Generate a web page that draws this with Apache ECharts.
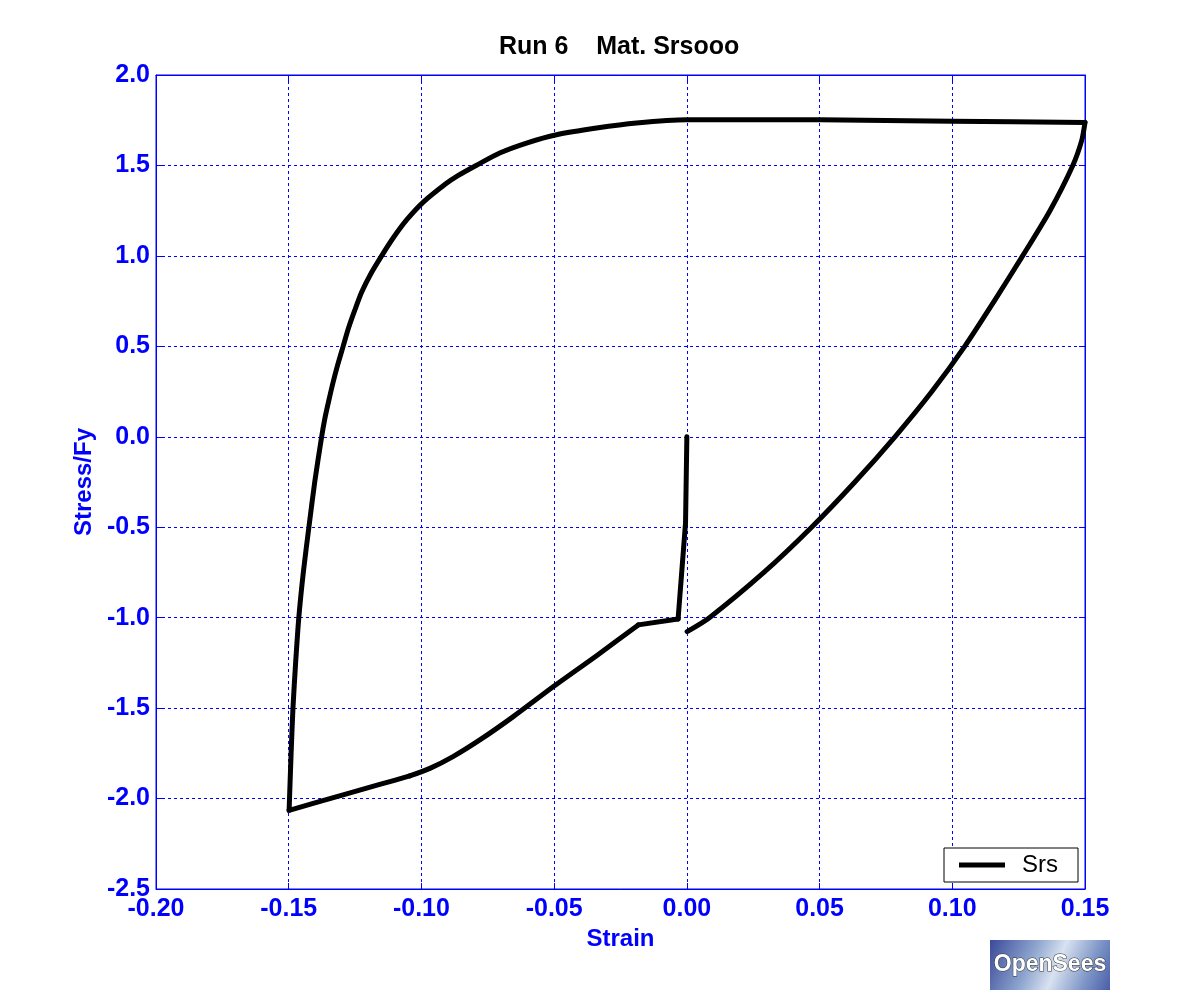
<!DOCTYPE html>
<html>
<head>
<meta charset="utf-8">
<script src="https://cdn.jsdelivr.net/npm/echarts@6/dist/echarts.min.js"></script>
<style>html,body{margin:0;padding:0;background:#fff}#c{width:1200px;height:1000px}</style>
</head>
<body>
<div id="c"></div>
<script>
const strain = [
  0, -0.0005, -0.0033, -0.0183, -0.034, -0.05, -0.0654, -0.078, -0.0881, -0.0968, -0.1044, -0.1157, -0.1282, -0.1408, -0.14985,
  -0.1491, -0.1484, -0.1474, -0.1462, -0.1445, -0.1424, -0.1402, -0.1376, -0.1364, -0.1349, -0.1333, -0.1315, -0.1295,
  -0.1275, -0.1251, -0.1225, -0.1191, -0.1150, -0.1106, -0.1055, -0.0991, -0.0907, -0.0867, -0.0794, -0.0705, -0.0604,
  -0.0491, -0.034, -0.019, 0, 0.05, 0.10, 0.15,
  0.1488, 0.1454, 0.1368, 0.1265, 0.1158, 0.1047, 0.0923, 0.0784, 0.0633, 0.047, 0.029, 0.0085, 0.0001];
const stress = [
  0, -0.477, -1.007, -1.04, -1.21, -1.378, -1.547, -1.676, -1.768, -1.833, -1.875, -1.922, -1.974, -2.027, -2.065,
  -1.75, -1.5, -1.25, -1.0, -0.75, -0.5, -0.25, 0.0, 0.1, 0.2, 0.3, 0.4, 0.5,
  0.6, 0.7, 0.8, 0.9, 1.0, 1.1, 1.2, 1.3, 1.4, 1.44, 1.5, 1.569, 1.624,
  1.67, 1.707, 1.735, 1.753, 1.752, 1.745, 1.738,
  1.64, 1.5, 1.25, 1.0, 0.75, 0.5, 0.25, 0.0, -0.25, -0.5, -0.75, -1.0, -1.077];
// indices where the path has sharp corners (straight pieces before index 3, smooth curves after)
const cornerIdx = [0, 2, 3, 10, 14, 47, strain.length - 1];
const xTicks = { min: -0.2, max: 0.15, step: 0.05 };
const yTicks = { min: -2.5, max: 2.0, step: 0.5 };
const titleText = 'Run 6    Mat. Srsooo';
const seriesName = 'Srs';

const chart = echarts.init(document.getElementById('c'), null, { renderer: 'canvas' });
const blue = '#0000ff';
const font = '"Liberation Sans", Arial, sans-serif';
const pts = strain.map((x, i) => [x, stress[i]]);
const segs = [];
for (let k = 0; k < cornerIdx.length - 1; k++) {
  segs.push({
    name: seriesName, type: 'line', data: pts.slice(cornerIdx[k], cornerIdx[k + 1] + 1),
    showSymbol: false, symbol: 'none', smooth: k >= 2 ? 0.25 : false,
    lineStyle: { color: '#000', width: 5, join: 'round', cap: 'round' }, itemStyle: { color: '#000' }
  });
}
const gridLine = { show: true, lineStyle: { color: blue, type: [3, 3], width: 1 } };
const tick = { show: true, inside: true, length: 6, lineStyle: { color: blue, width: 1 } };
chart.setOption({
  animation: false,
  backgroundColor: '#fff',
  title: {
    text: titleText, left: 499, top: 35, padding: 0,
    textStyle: { fontFamily: font, fontSize: 25, fontWeight: 'bold', color: '#000' }
  },
  grid: { left: 156, right: 115, top: 75, bottom: 111, show: true, borderColor: blue, borderWidth: 1, containLabel: false },
  legend: {
    data: [seriesName], right: 122, bottom: 118,
    orient: 'horizontal', backgroundColor: '#fff',
    borderColor: '#000', borderWidth: 1, borderRadius: 0,
    padding: [5, 20, 5, 15], icon: 'rect', itemWidth: 46, itemHeight: 5,
    textStyle: { fontFamily: font, fontSize: 24, color: '#000', padding: [0, 0, 0, 12] }
  },
  xAxis: [{
    type: 'value', min: xTicks.min, max: xTicks.max, interval: xTicks.step,
    name: 'Strain', nameLocation: 'middle', nameGap: 35,
    nameTextStyle: { fontFamily: font, fontSize: 24, fontWeight: 'bold', color: blue },
    axisLine: { show: true, onZero: false, lineStyle: { color: blue, width: 1 } },
    axisTick: tick, splitLine: gridLine,
    axisLabel: { fontFamily: font, fontSize: 25, fontWeight: 'bold', color: blue, margin: 8, formatter: v => v.toFixed(2) }
  }, {
    type: 'value', position: 'top', min: xTicks.min, max: xTicks.max, interval: xTicks.step,
    axisLine: { show: true, onZero: false, lineStyle: { color: blue } }, axisTick: tick, axisLabel: { show: false }, splitLine: { show: false }
  }],
  yAxis: [{
    type: 'value', min: yTicks.min, max: yTicks.max, interval: yTicks.step,
    name: 'Stress/Fy', nameLocation: 'middle', nameGap: 52, nameRotate: 90,
    nameTextStyle: { fontFamily: font, fontSize: 24, fontWeight: 'bold', color: blue },
    axisLine: { show: true, onZero: false, lineStyle: { color: blue, width: 1 } },
    axisTick: tick, splitLine: gridLine,
    axisLabel: { fontFamily: font, fontSize: 25, fontWeight: 'bold', color: blue, margin: 6, formatter: v => v.toFixed(1) }
  }, {
    type: 'value', position: 'right', min: yTicks.min, max: yTicks.max, interval: yTicks.step,
    axisLine: { show: true, onZero: false, lineStyle: { color: blue } }, axisTick: tick, axisLabel: { show: false }, splitLine: { show: false }
  }],
  series: segs,
  graphic: [{
    type: 'group', left: 990, top: 940, children: [
      { type: 'rect', shape: { x: 0, y: 0, width: 120, height: 50 },
        style: { fill: new echarts.graphic.LinearGradient(0, 0, 1, 1, [
          { offset: 0, color: '#3a4a9a' }, { offset: 0.35, color: '#8fa6cf' }, { offset: 0.55, color: '#d8e2f0' }, { offset: 0.8, color: '#7d95c6' }, { offset: 1, color: '#4a5ea8' }]) } },
      { type: 'text', x: 60, y: 25, style: { text: 'OpenSees', align: 'center', verticalAlign: 'middle',
        font: 'bold 23px "Liberation Sans", Arial, sans-serif', fill: '#fff', stroke: '#333', lineWidth: 1 } }
    ]
  }]
});
</script>
</body>
</html>
